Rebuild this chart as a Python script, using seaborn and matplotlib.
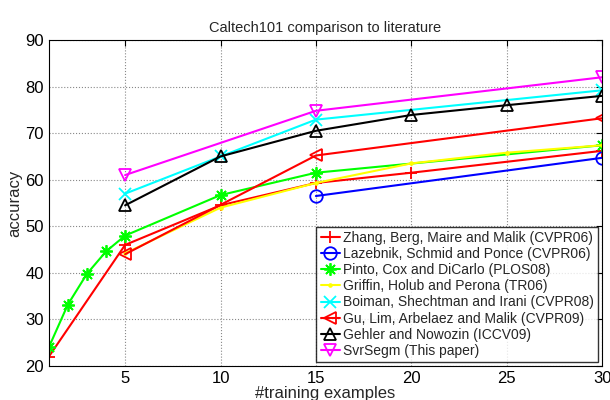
import matplotlib
matplotlib.use("Agg")
import matplotlib.pyplot as plt
import seaborn as sns
import pandas as pd

# training examples per class and accuracies
zhang_x = [1, 5, 10, 15, 20, 30]
zhang_y = [22.0, 46.0, 54.5, 59.3, 61.5, 66.2]
lazebnik_x = [15, 30]
lazebnik_y = [56.5, 64.7]
pinto_x = [1, 2, 3, 4, 5, 10, 15, 30]
pinto_y = [24.0, 33.2, 39.8, 44.6, 48.0, 56.7, 61.5, 67.4]
griffin_x = [5, 10, 15, 20, 25, 30]
griffin_y = [44.2, 54.0, 59.3, 63.5, 65.8, 67.4]
boiman_x = [5, 10, 15, 30]
boiman_y = [57.0, 65.0, 72.9, 79.2]
gu_x = [5, 15, 30]
gu_y = [44.0, 65.2, 73.2]
gehler_x = [5, 10, 15, 20, 25, 30]
gehler_y = [54.5, 65.0, 70.5, 73.9, 76.0, 78.0]
svrsegm_x = [5, 15, 30]
svrsegm_y = [61.0, 74.8, 82.0]

labels = [
    "Zhang, Berg, Maire and Malik (CVPR06)",
    "Lazebnik, Schmid and Ponce (CVPR06)",
    "Pinto, Cox and DiCarlo (PLOS08)",
    "Griffin, Holub and Perona (TR06)",
    "Boiman, Shechtman and Irani (CVPR08)",
    "Gu, Lim, Arbelaez and Malik (CVPR09)",
    "Gehler and Nowozin (ICCV09)",
    "SvrSegm (This paper)",
]
xs = [zhang_x, lazebnik_x, pinto_x, griffin_x, boiman_x, gu_x, gehler_x, svrsegm_x]
ys = [zhang_y, lazebnik_y, pinto_y, griffin_y, boiman_y, gu_y, gehler_y, svrsegm_y]

colors = ["#ff0000", "#0000ff", "#00ff00", "#ffff00",
          "#00ffff", "#ff0000", "#000000", "#ff00ff"]
# matlab style: + o * . x < ^ v  (asterisk drawn as 8 spokes)
markers = ["+", "o", (8, 2, 0), ".", "x", "<", "^", "v"]
hollow = [False, True, False, False, False, True, True, True]

sns.set_style("white")
plt.rcParams["font.family"] = ["Liberation Sans", "DejaVu Sans"]

fig = plt.figure(figsize=(6.1, 4.0), dpi=100)
ax = fig.add_axes([0.080, 0.085, 0.907, 0.815])

for i in range(len(labels)):
    df = pd.DataFrame({"x": xs[i], "y": ys[i]})
    sns.lineplot(data=df, x="x", y="y", ax=ax, color=colors[i], label=labels[i],
                 marker=markers[i], markersize=4 if markers[i] == "." else 9,
                 markerfacecolor="none" if hollow[i] else colors[i],
                 markeredgecolor=colors[i], markeredgewidth=1.3,
                 linewidth=1.5, estimator=None, sort=False)

ax.set_xlim(1, 30)
ax.set_ylim(20, 90)
ax.set_xticks([5, 10, 15, 20, 25, 30])
ax.set_yticks(range(20, 91, 10))
ax.grid(True, linestyle=":", color="#888888", linewidth=0.8)
ax.tick_params(labelsize=12, direction="in", length=4, colors="black",
               top=True, right=True)
for s in ax.spines.values():
    s.set_color("black")
    s.set_linewidth(0.8)

ax.set_title("Caltech101 comparison to literature", fontsize=10.5)
ax.set_xlabel("#training examples", fontsize=12, labelpad=0)
ax.set_ylabel("accuracy", fontsize=12, labelpad=2)

leg = ax.legend(loc="lower right", fontsize=10, frameon=True, fancybox=False,
                handlelength=1.4, handletextpad=0.2, borderpad=0.3,
                labelspacing=0.15, borderaxespad=0.3)
leg.get_frame().set_edgecolor("black")
leg.get_frame().set_linewidth(1.0)

fig.savefig("out.png", dpi=100)
